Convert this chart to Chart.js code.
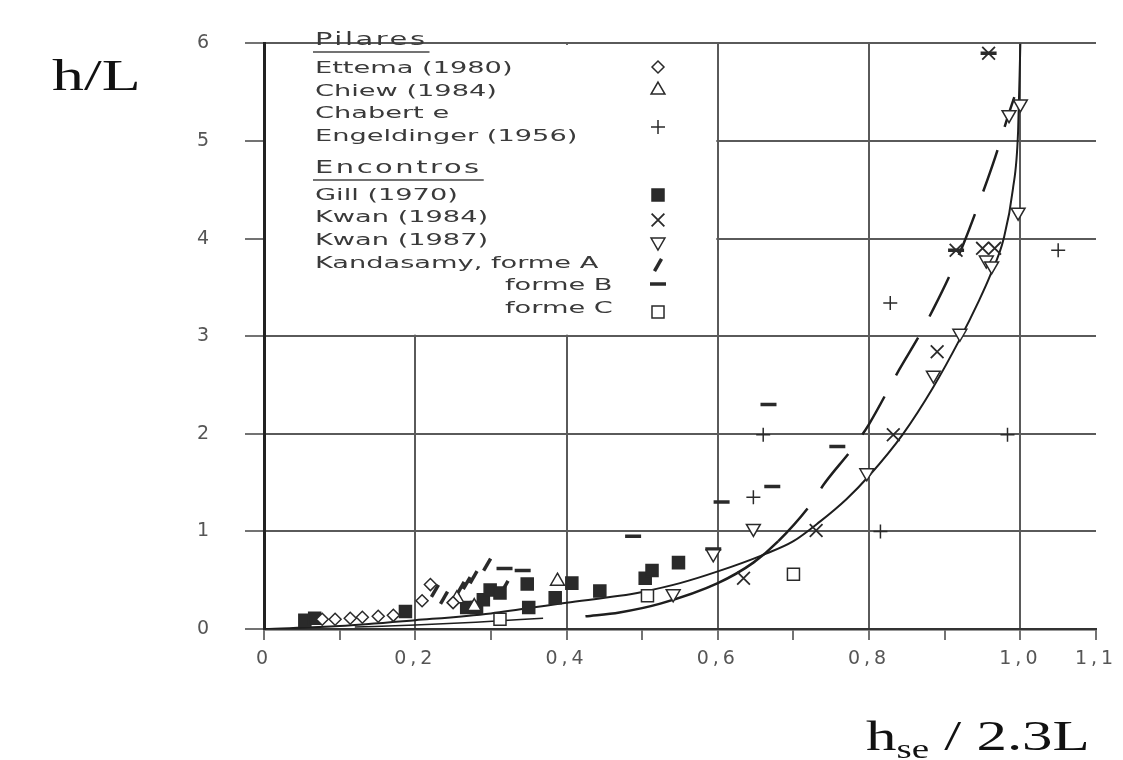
<!DOCTYPE html>
<html>
<head>
<meta charset="utf-8">
<script src="https://cdn.jsdelivr.net/npm/chart.js@4/dist/chart.umd.min.js"></script>
<style>
  html, body { margin: 0; padding: 0; background: #fff; }
</style>
</head>
<body>
<canvas id="chart" width="1123" height="760"></canvas>
<script>
// tick labels
const xTickLabels = ['0', '', '0,2', '', '0,4', '', '0,6', '', '0,8', '', '1,0', '1,1'];
const yTickLabels = ['0', '1', '2', '3', '4', '5', '6'];

// series names
const seriesNames = ['Ettema (1980)', 'Chiew (1984)', 'Chabert e Engeldinger (1956)', 'Gill (1970)',
  'Kwan (1984)', 'Kwan (1987)', 'Kandasamy, forme A', 'forme B', 'forme C'];

// measured points [hse/2.3L, h/L]
const ettema = [[0.077, 0.10], [0.094, 0.10], [0.114, 0.11], [0.13, 0.12], [0.151, 0.13], [0.171, 0.14], [0.209, 0.29], [0.22, 0.455], [0.25, 0.27]];
const chiew = [[0.255, 0.31], [0.278, 0.23], [0.388, 0.49]];
const engeldinger = [[0.647, 1.35], [0.66, 1.99], [0.815, 1.0], [0.828, 3.34], [0.983, 1.99], [1.05, 3.88]];
const gill = [[0.054, 0.09], [0.067, 0.11], [0.187, 0.18], [0.268, 0.22], [0.281, 0.22], [0.29, 0.3], [0.299, 0.4], [0.312, 0.37],
  [0.348, 0.46], [0.35, 0.22], [0.385, 0.32], [0.407, 0.47], [0.444, 0.39], [0.504, 0.52], [0.513, 0.6], [0.548, 0.68]];
const kwan84 = [[0.634, 0.52], [0.73, 1.01], [0.832, 1.99], [0.89, 2.84], [0.915, 3.88], [0.95, 3.9], [0.966, 3.9], [0.958, 5.9]];
const kwan87 = [[0.541, 0.36], [0.594, 0.77], [0.647, 1.03], [0.797, 1.6], [0.885, 2.6], [0.92, 3.03], [0.955, 3.78], [0.962, 3.72],
  [0.997, 4.27], [0.985, 5.27], [1.0, 5.38]];
const formeA = [[0.226, 0.39], [0.238, 0.32], [0.26, 0.42], [0.268, 0.47], [0.277, 0.53], [0.295, 0.66], [0.318, 0.43]];
const formeB = [[0.318, 0.62], [0.342, 0.6], [0.488, 0.95], [0.605, 1.3], [0.594, 0.82], [0.667, 2.3], [0.672, 1.46], [0.758, 1.87], [0.915, 3.88], [0.958, 5.9]];
const formeC = [[0.312, 0.1], [0.507, 0.34], [0.70, 0.56]];

// curves
const curveA = [[0, 0], [0.1, 0.03], [0.2, 0.09], [0.3, 0.16], [0.4, 0.27], [0.47, 0.34], [0.5, 0.38], [0.55, 0.47], [0.6, 0.59],
  [0.66, 0.76], [0.7, 0.9], [0.735, 1.1], [0.77, 1.33], [0.8, 1.57], [0.845, 2.0], [0.885, 2.48], [0.92, 2.97], [0.945, 3.36],
  [0.96, 3.62], [0.978, 4.0], [0.99, 4.5], [0.997, 5.1], [1.0, 6.0]];
const curveB = [[0.425, 0.13], [0.47, 0.17], [0.524, 0.26], [0.6, 0.47], [0.647, 0.68], [0.68, 0.9], [0.725, 1.3], [0.74, 1.48],
  [0.78, 1.87], [0.8, 2.1], [0.84, 2.66], [0.868, 3.03], [0.885, 3.28], [0.907, 3.63], [0.925, 3.95], [0.947, 4.4], [0.967, 4.84],
  [0.983, 5.24], [0.992, 5.45]];
const curveC = [[0.12, 0.02], [0.2, 0.04], [0.28, 0.07], [0.369, 0.11]];

const ink = '#2a2a2a';
const pts = arr => arr.map(p => ({ x: p[0], y: p[1] }));

function markers(label, data, style, radius, extra) {
  return Object.assign({
    label: label,
    data: pts(data),
    showLine: false,
    pointStyle: style,
    pointRadius: radius,
    pointBorderWidth: 1.5,
    pointBorderColor: ink,
    pointBackgroundColor: '#fff',
    pointRotation: 0
  }, extra || {});
}

function curve(data, extra) {
  return Object.assign({
    label: '',
    data: pts(data),
    showLine: true,
    pointRadius: 0,
    borderColor: '#1e1e1e',
    borderWidth: 2,
    cubicInterpolationMode: 'monotone'
  }, extra || {});
}

const datasets = [
  markers(seriesNames[0], ettema, 'rectRot', 6),
  markers(seriesNames[1], chiew, 'triangle', 8),
  markers(seriesNames[2], engeldinger, 'cross', 7),
  markers(seriesNames[3], gill, 'rect', 8.5, { pointBackgroundColor: ink }),
  markers(seriesNames[4], kwan84, 'crossRot', 9, { pointBorderWidth: 1.8 }),
  markers(seriesNames[5], kwan87, 'triangle', 8, { pointRotation: 180 }),
  markers(seriesNames[6], formeA, 'line', 7, { pointRotation: -60, pointBorderWidth: 3.5 }),
  markers(seriesNames[7], formeB, 'line', 8, { pointBorderWidth: 3.5 }),
  markers(seriesNames[8], formeC, 'rect', 8.5),
  curve(curveA),
  curve(curveB, { borderWidth: 2.5, segment: { borderDash: c => c.p0.parsed.x >= 0.68 ? [44, 24] : undefined } }),
  curve(curveC, { borderWidth: 1.5 })
];

// legend rows inside the plot (pixel layout)
const legendRows = [
  { text: 'Pilares', y: 41, heading: true },
  { text: 'Ettema (1980)', y: 69, series: 0, sy: 67 },
  { text: 'Chiew (1984)', y: 92, series: 1, sy: 90 },
  { text: 'Chabert e', y: 114 },
  { text: 'Engeldinger (1956)', y: 137, series: 2, sy: 127 },
  { text: 'Encontros', y: 169, heading: true },
  { text: 'Gill (1970)', y: 196, series: 3, sy: 195 },
  { text: 'Kwan (1984)', y: 218, series: 4, sy: 220 },
  { text: 'Kwan (1987)', y: 241, series: 5, sy: 242 },
  { text: 'Kandasamy, forme A', y: 264, series: 6, sy: 265 },
  { text: 'forme B', y: 286, x: 505, series: 7, sy: 284 },
  { text: 'forme C', y: 309, x: 505, series: 8, sy: 312 }
];

const spacingPlugin = {
  id: 'spacing',
  beforeDraw(chart) { chart.ctx.letterSpacing = '4px'; },
  afterDraw(chart) { chart.ctx.letterSpacing = '0px'; }
};

const legendPlugin = {
  id: 'innerLegend',
  beforeDatasetsDraw(chart) {
    const ctx = chart.ctx;
    const xs = chart.scales.x, ys = chart.scales.y;
    ctx.save();
    ctx.letterSpacing = '0px';
    // white legend panel hides the grid
    const l = chart.chartArea.left + 2, r = xs.getPixelForValue(0.6) - 1.5;
    const t = ys.getPixelForValue(6) + 1.5, b = ys.getPixelForValue(3) - 1.5;
    ctx.fillStyle = '#fff';
    ctx.fillRect(l, t, r - l, b - t);

    const sx = 1.7;
    legendRows.forEach(row => {
      const x0 = row.x || 315;
      ctx.save();
      ctx.translate(x0, row.y);
      ctx.scale(sx, 1);
      ctx.fillStyle = '#3a3a3a';
      ctx.textBaseline = 'middle';
      ctx.textAlign = 'left';
      if (row.heading) {
        ctx.font = '17px "DejaVu Sans", sans-serif';
        ctx.letterSpacing = '1.5px';
      } else {
        ctx.font = '16px "DejaVu Sans", sans-serif';
      }
      ctx.fillText(row.text, 0, 0);
      const w = ctx.measureText(row.text).width;
      ctx.restore();
      if (row.heading) {
        ctx.strokeStyle = '#444';
        ctx.lineWidth = 1.5;
        ctx.beginPath();
        ctx.moveTo(x0 - 2, row.y + 11);
        ctx.lineTo(x0 + w * sx + 2, row.y + 11);
        ctx.stroke();
      }
      if (row.series !== undefined && Chart.helpers && Chart.helpers.drawPoint) {
        const ds = chart.data.datasets[row.series];
        ctx.save();
        ctx.fillStyle = ds.pointBackgroundColor;
        ctx.strokeStyle = ds.pointBorderColor;
        ctx.lineWidth = ds.pointBorderWidth;
        Chart.helpers.drawPoint(ctx, {
          pointStyle: ds.pointStyle,
          radius: ds.pointRadius,
          rotation: ds.pointRotation,
          borderWidth: ds.pointBorderWidth
        }, 658, row.sy);
        ctx.restore();
      }
    });
    ctx.restore();
  }
};

const titlePlugin = {
  id: 'axisTitles',
  afterDraw(chart) {
    const ctx = chart.ctx;
    ctx.save();
    ctx.letterSpacing = '0px';
    ctx.fillStyle = '#111';
    ctx.textBaseline = 'alphabetic';
    ctx.textAlign = 'left';
    const big = '44px "Liberation Serif", "Times New Roman", serif';
    const small = '27px "Liberation Serif", "Times New Roman", serif';

    ctx.save();
    ctx.translate(52, 90);
    ctx.scale(1.45, 1);
    ctx.font = big;
    ctx.fillText('h/L', 0, 0);
    ctx.restore();

    ctx.save();
    ctx.translate(866, 750);
    ctx.scale(1.45, 1);
    let x = 0;
    ctx.font = '42px "Liberation Serif", "Times New Roman", serif';
    ctx.fillText('h', x, 0);
    x += ctx.measureText('h').width;
    ctx.font = small;
    ctx.fillText('se', x, 8);
    x += ctx.measureText('se').width;
    ctx.font = '42px "Liberation Serif", "Times New Roman", serif';
    ctx.fillText(' / 2.3L', x, 0);
    ctx.restore();

    ctx.restore();
  }
};

const tickFont = { family: '"DejaVu Sans", sans-serif', size: 19 };

new Chart(document.getElementById('chart'), {
  type: 'scatter',
  data: { datasets: datasets },
  plugins: [spacingPlugin, legendPlugin, titlePlugin],
  options: {
    responsive: false,
    animation: false,
    layout: { padding: { top: 22, right: 27, left: 0, bottom: 0 } },
    plugins: { legend: { display: false }, tooltip: { enabled: false } },
    scales: {
      x: {
        type: 'linear',
        min: 0,
        max: 1.1,
        afterFit(s) { s.height = 131; },
        ticks: {
          stepSize: 0.1,
          autoSkip: false,
          maxRotation: 0,
          padding: 8,
          color: '#555',
          font: tickFont,
          callback: (v, i) => xTickLabels[i]
        },
        grid: {
          color: c => {
            const k = Math.round(c.tick.value * 10);
            return (k > 0 && k <= 10 && k % 2 === 0) ? '#5a5a5a' : 'rgba(0,0,0,0)';
          },
          lineWidth: 2,
          tickLength: 11,
          tickColor: '#444',
          tickWidth: 1.5
        },
        border: { color: '#333', width: 2.5 }
      },
      y: {
        type: 'linear',
        min: 0,
        max: 6,
        afterFit(s) { s.width = 264; },
        ticks: {
          stepSize: 1,
          padding: 32,
          color: '#555',
          font: tickFont,
          callback: (v, i) => yTickLabels[i]
        },
        grid: {
          color: '#5a5a5a',
          lineWidth: 2,
          tickLength: 19,
          tickColor: '#444',
          tickWidth: 1.5
        },
        border: { color: '#222', width: 3 }
      }
    }
  }
});
</script>
</body>
</html>
